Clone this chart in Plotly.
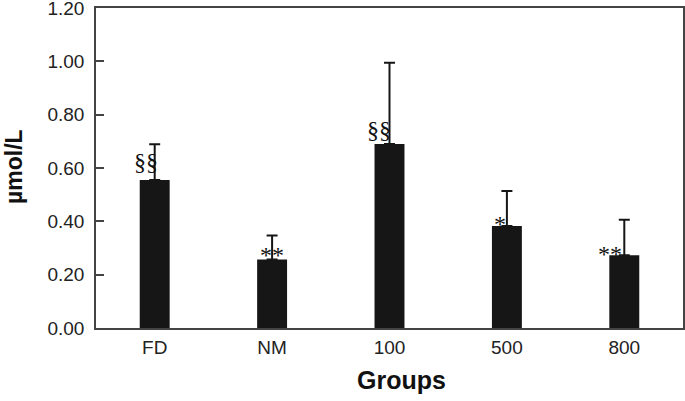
import plotly.graph_objects as go

groups = ["FD", "NM", "100", "500", "800"]
means = [0.555, 0.257, 0.690, 0.383, 0.273]
errors = [0.134, 0.090, 0.305, 0.131, 0.133]
marks = ["§§", "**", "§§", "*", "**"]
mark_y = [0.624, 0.272, 0.743, 0.39, 0.277]
mark_shift = [-9, 0, -11, -7, -14]
y_ticks = [0.0, 0.2, 0.4, 0.6, 0.8, 1.0, 1.2]

positions = list(range(len(groups)))

fig = go.Figure()
fig.add_trace(go.Bar(
    x=positions, y=means, width=0.255,
    marker=dict(color="#161616", line=dict(width=0)),
    error_y=dict(type="data", array=errors, arrayminus=[0] * len(errors),
                 symmetric=False, color="#161616", thickness=2, width=5.5),
))

for p, m, yv, sh in zip(positions, marks, mark_y, mark_shift):
    fig.add_annotation(x=p, y=yv, text=m, showarrow=False, xshift=sh,
                       font=dict(family="Liberation Serif", size=24, color="#111"),
                       xanchor="center", yanchor="middle")

fig.add_annotation(xref="paper", yref="paper", x=0.52, y=0, yshift=-52,
                   text="<b>Groups</b>", showarrow=False,
                   font=dict(family="Liberation Sans", size=25, color="#111"),
                   xanchor="center", yanchor="middle")

fig.add_annotation(xref="paper", yref="paper", x=0, y=0.5, xshift=-82, yshift=1,
                   text="<b>µmol/L</b>", showarrow=False, textangle=-90,
                   font=dict(family="Liberation Sans", size=23, color="#111"),
                   xanchor="center", yanchor="middle")

fig.update_layout(
    width=685, height=401,
    margin=dict(l=96, r=2, t=8, b=73, autoexpand=False),
    plot_bgcolor="white", paper_bgcolor="white",
    showlegend=False,
    font=dict(family="Liberation Sans", size=19, color="#222"),
)
fig.update_xaxes(type="linear", range=[-0.5, 4.5], tickvals=positions, ticktext=groups,
                 showline=True, linecolor="#444", linewidth=1.5, mirror=True,
                 ticks="", showgrid=False, zeroline=False, tickfont=dict(size=19),
                 ticklabelstandoff=1, automargin=False)
fig.update_yaxes(range=[0, 1.2001], tickvals=y_ticks,
                 ticktext=[f"{v:.2f}" for v in y_ticks],
                 showline=True, linecolor="#444", linewidth=1.5, mirror=True,
                 ticks="inside", ticklen=8, tickwidth=1.5, tickcolor="#444",
                 showgrid=False, zeroline=False, tickfont=dict(size=19),
                 ticklabeloverflow="allow",
                 automargin=False, ticklabelstandoff=6)

fig.write_html("out.html", config={"displayModeBar": False},
               post_script="document.body.style.margin='0px';")
